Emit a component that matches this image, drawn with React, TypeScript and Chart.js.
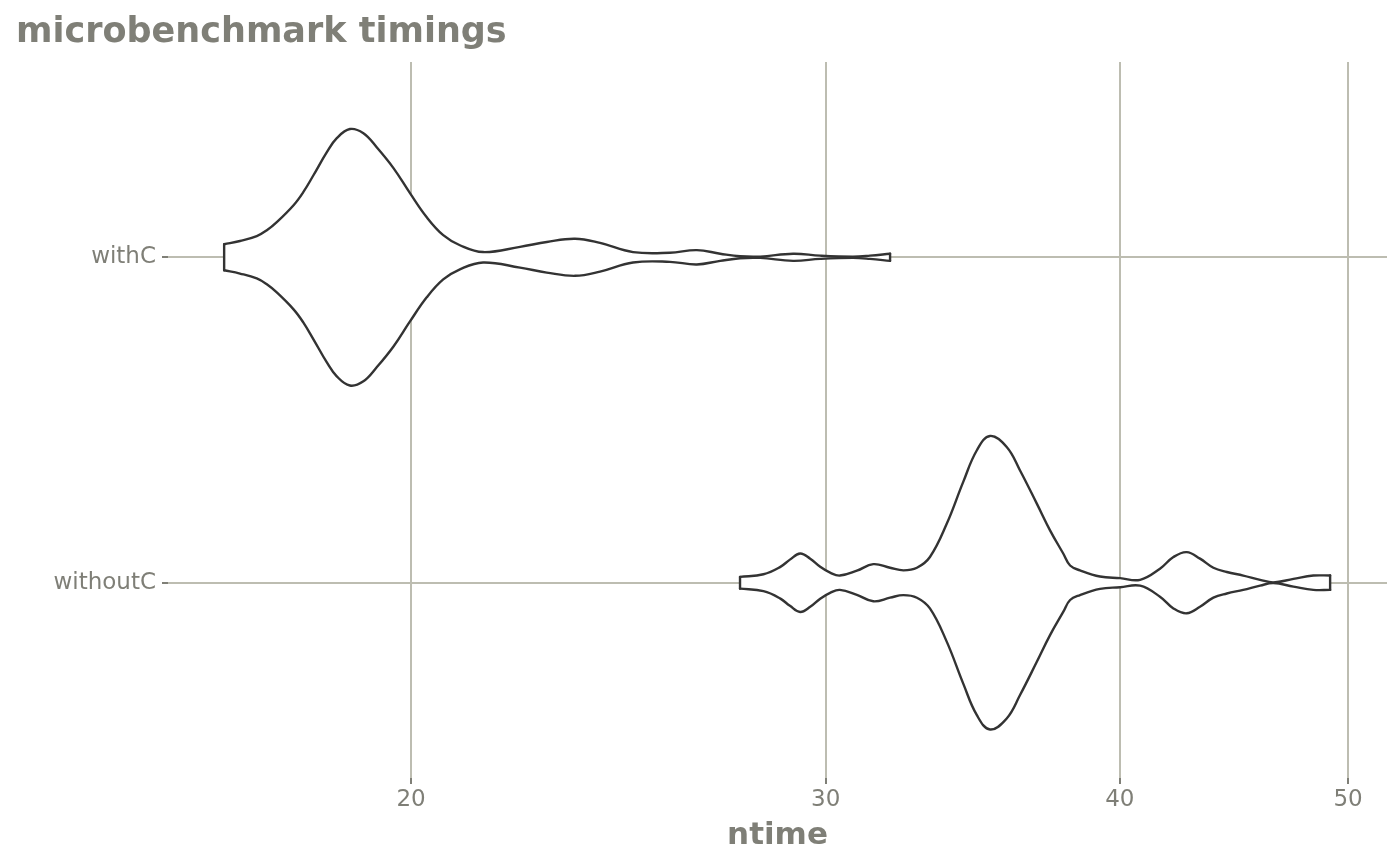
import React, { useEffect, useRef } from "react";
import { Chart, registerables } from "chart.js";

Chart.register(...registerables);

// ---- data ----
const categories = ["withC", "withoutC"];
const xTicks = [20, 30, 40, 50];

// violin outline for "withC": ntime values and half-widths (category units)
const withCTime = [
  16.66, 16.92, 17.2, 17.37, 17.54, 17.83, 18.0, 18.18, 18.42, 18.6, 18.84, 19.09, 19.34, 19.66,
  19.98, 20.31, 20.64, 20.98, 21.46, 22.25, 22.84, 23.48, 24.06, 24.85, 25.76, 26.45, 27.06,
  27.59, 28.14, 29.06, 29.84, 30.81, 31.33, 31.95,
];
const withCHalfWidth = [
  0.04, 0.05, 0.065, 0.083, 0.108, 0.16, 0.2, 0.252, 0.323, 0.366, 0.394, 0.381, 0.338, 0.274,
  0.197, 0.123, 0.068, 0.037, 0.016, 0.032, 0.047, 0.057, 0.044, 0.016, 0.014, 0.022, 0.011,
  0.003, 0.002, 0.011, 0.005, 0.002, 0.005, 0.011,
];

// violin outline for "withoutC"
const withoutCTime = [
  27.59, 28.23, 28.69, 28.97, 29.26, 29.55, 29.84, 30.13, 30.42, 30.93, 31.43, 31.95, 32.37,
  32.8, 33.22, 33.77, 34.32, 34.78, 35.23, 35.81, 36.28, 36.88, 37.36, 37.85, 38.1, 38.47, 39.23,
  40.01, 40.8, 41.6, 42.15, 42.7, 43.26, 43.83, 44.41, 45.13, 45.88, 46.48, 47.4, 48.33, 49.13,
];
const withoutCHalfWidth = [
  0.018, 0.026, 0.048, 0.071, 0.09, 0.074, 0.049, 0.031, 0.022, 0.037, 0.057, 0.046, 0.038,
  0.046, 0.079, 0.181, 0.31, 0.407, 0.451, 0.417, 0.345, 0.243, 0.161, 0.089, 0.053, 0.038, 0.019,
  0.014, 0.009, 0.043, 0.079, 0.094, 0.074, 0.046, 0.033, 0.022, 0.009, 0.001, 0.012, 0.022, 0.022,
];

// ---- styles ----
const FONT = "'DejaVu Sans', 'Liberation Sans', sans-serif";
const TEXT = "#7f7f77";
const GRID = "#bdbdb1";
const TICK = "#7f7f77";
const OUTLINE = "#333333";

function violinDatasets(times: number[], hw: number[], center: number) {
  const upper = times.map((t, i) => ({ x: t, y: center - hw[i] }));
  const lower = times.map((t, i) => ({ x: t, y: center + hw[i] }));
  const n = times.length;
  const base = {
    borderColor: OUTLINE,
    borderWidth: 2.4,
    borderJoinStyle: "round",
    borderCapStyle: "round",
    pointRadius: 0,
    pointHoverRadius: 0,
    showLine: true,
    order: 0,
  };
  return [
    { ...base, data: upper, tension: 0.4, fill: "+1", backgroundColor: "#ffffff", order: 1 },
    { ...base, data: lower, tension: 0.4, fill: false },
    { ...base, data: [upper[0], lower[0]], tension: 0, fill: false, borderCapStyle: "butt" },
    { ...base, data: [upper[n - 1], lower[n - 1]], tension: 0, fill: false, borderCapStyle: "butt" },
  ];
}

export default function App() {
  const ref = useRef<HTMLCanvasElement | null>(null);

  useEffect(() => {
    document.body.style.margin = "0";
    const canvas = ref.current;
    if (!canvas) return;
    const datasets = [
      ...violinDatasets(withCTime, withCHalfWidth, 1),
      ...violinDatasets(withoutCTime, withoutCHalfWidth, 2),
    ];
    const chart = new Chart(canvas, {
      type: "line",
      data: { datasets: datasets as any },
      options: {
        animation: false,
        responsive: false,
        devicePixelRatio: 1,
        events: [],
        layout: { padding: { left: 16, right: 13, top: 0, bottom: 0 } },
        plugins: {
          legend: { display: false },
          tooltip: { enabled: false },
          title: {
            display: true,
            text: "microbenchmark timings",
            align: "start",
            color: TEXT,
            font: { family: FONT, size: 35, weight: "bold" },
            padding: { top: 12, bottom: 8 },
          },
        },
        scales: {
          x: {
            type: "logarithmic",
            min: 15.77,
            max: 51.94,
            bounds: "data",
            afterBuildTicks: (s: any) => {
              s.ticks = xTicks.map((v) => ({ value: v }));
            },
            afterFit: (s: any) => {
              s.height = 87;
            },
            ticks: {
              callback: (v: any) => String(v),
              color: TEXT,
              font: { family: FONT, size: 23 },
              padding: 2,
              maxRotation: 0,
              autoSkip: false,
            },
            grid: {
              color: GRID,
              lineWidth: 2,
              tickColor: TICK,
              tickLength: 6,
              tickWidth: 2,
            },
            border: { display: false },
            title: {
              display: true,
              text: "ntime",
              color: TEXT,
              font: { family: FONT, size: 31, weight: "bold" },
              padding: { top: 0, bottom: 10 },
            },
          },
          y: {
            type: "linear",
            min: 0.4,
            max: 2.6,
            reverse: true,
            afterBuildTicks: (s: any) => {
              s.ticks = categories.map((_, i) => ({ value: i + 1 }));
            },
            afterFit: (s: any) => {
              s.width = 152;
            },
            ticks: {
              callback: (v: any) => categories[Math.round(Number(v)) - 1] ?? "",
              color: TEXT,
              font: { family: FONT, size: 23 },
              padding: 6,
              autoSkip: false,
            },
            grid: {
              color: GRID,
              lineWidth: 2,
              tickColor: TICK,
              tickLength: 6,
              tickWidth: 2,
            },
            border: { display: false },
          },
        },
      } as any,
    });
    return () => chart.destroy();
  }, []);

  return (
    <div style={{ width: 1400, height: 865 }}>
      <canvas ref={ref} width={1400} height={865} style={{ display: "block" }} />
    </div>
  );
}
